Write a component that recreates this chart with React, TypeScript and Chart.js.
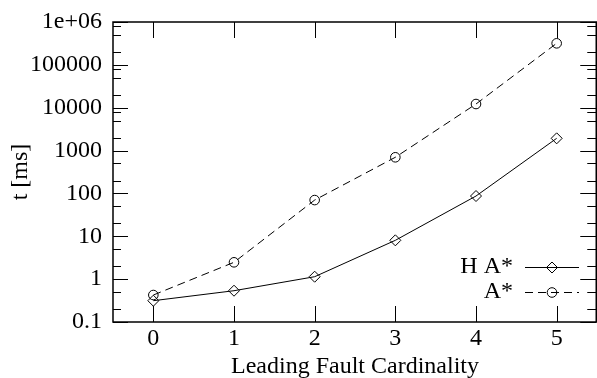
import React, { useEffect, useRef } from 'react';
import { Chart, registerables } from 'chart.js';

Chart.register(...registerables);

// ---- data ----
const categories = [0, 1, 2, 3, 4, 5];
const xTickLabels = ['0', '1', '2', '3', '4', '5'];
const haStarValues = [0.314, 0.537, 1.14, 8.05, 87, 1930];
const aStarValues = [0.426, 2.47, 70, 697, 12200, 318000];
const yMajorTicks = [0.1, 1, 10, 100, 1000, 10000, 100000, 1000000];
const yTickLabels = ['0.1', '1', '10', '100', '1000', '10000', '100000', '1e+06'];
const yMinorTicks = [0.2, 0.5, 2, 5, 20, 50, 200, 500, 2000, 5000, 8000, 20000, 50000, 80000, 200000, 500000, 800000];
const seriesNames = ['H A*', 'A*'];
const xTitle = 'Leading Fault Cardinality';
const yTitle = 't [ms]';

const FONT = "'Liberation Serif', 'Times New Roman', serif";
const DASH = [8, 5];

function drawMarker(ctx: CanvasRenderingContext2D, style: string, x: number, y: number, r: number) {
  ctx.beginPath();
  if (style === 'rectRot') {
    ctx.moveTo(x, y - r);
    ctx.lineTo(x + r, y);
    ctx.lineTo(x, y + r);
    ctx.lineTo(x - r, y);
    ctx.closePath();
  } else {
    ctx.arc(x, y, r, 0, Math.PI * 2);
  }
  ctx.stroke();
}

const gnuplotPlugin = {
  id: 'gnuplotFrame',
  beforeDatasetsDraw(chart: any) {
    const { ctx, chartArea: a, scales } = chart;
    const xs = scales.x;
    const ys = scales.y;
    const seg = (x1: number, y1: number, x2: number, y2: number) => {
      ctx.beginPath();
      ctx.moveTo(x1, y1);
      ctx.lineTo(x2, y2);
      ctx.stroke();
    };
    ctx.save();
    ctx.strokeStyle = '#000';
    ctx.lineWidth = 1;
    const right = a.right - 0.75;
    for (const v of categories) {
      const px = Math.round(xs.getPixelForValue(v)) + 0.5;
      seg(px, a.bottom, px, a.bottom - 16);
      seg(px, a.top, px, a.top + 16);
    }
    for (const v of yMajorTicks) {
      const py = Math.round(ys.getPixelForValue(v)) + 0.5;
      seg(a.left, py, a.left + 15, py);
      seg(right, py, right - 16, py);
    }
    for (const v of yMinorTicks) {
      const py = Math.round(ys.getPixelForValue(v)) + 0.5;
      seg(a.left, py, a.left + 8, py);
      seg(right, py, right - 9, py);
    }
    ctx.lineWidth = 1.5;
    ctx.strokeRect(a.left, a.top, right - a.left, a.bottom - a.top);
    ctx.restore();
  },
  afterDatasetsDraw(chart: any) {
    const { ctx } = chart;
    ctx.save();
    ctx.font = `24px ${FONT}`;
    ctx.fillStyle = '#000';
    ctx.textAlign = 'right';
    ctx.textBaseline = 'middle';
    const rows = [267, 292];
    chart.data.datasets.forEach((ds: any, i: number) => {
      const y = rows[i];
      ctx.fillText(ds.label, 513, y);
      ctx.strokeStyle = '#000';
      ctx.lineWidth = 1;
      ctx.setLineDash(ds.borderDash || []);
      ctx.beginPath();
      ctx.moveTo(525, y + 0.5);
      ctx.lineTo(579, y + 0.5);
      ctx.stroke();
      ctx.setLineDash([]);
      drawMarker(ctx, ds.pointStyle, 552, y + 0.5, ds.pointRadius);
    });
    ctx.restore();
  },
};

export default function App() {
  const ref = useRef<HTMLCanvasElement | null>(null);
  useEffect(() => {
    const canvas = ref.current;
    if (!canvas) return;
    Chart.defaults.font.family = FONT;
    Chart.defaults.color = '#000';
    const chart = new Chart(canvas, {
      type: 'line',
      data: {
        datasets: [
          {
            label: seriesNames[0],
            data: categories.map((c, i) => ({ x: c, y: haStarValues[i] })),
            borderColor: '#000',
            borderWidth: 1,
            pointStyle: 'rectRot',
            pointRadius: 5.5,
            pointBorderColor: '#000',
            pointBackgroundColor: 'rgba(0,0,0,0)',
            pointBorderWidth: 1,
            tension: 0,
            fill: false,
          },
          {
            label: seriesNames[1],
            data: categories.map((c, i) => ({ x: c, y: aStarValues[i] })),
            borderColor: '#000',
            borderWidth: 1,
            borderDash: DASH,
            pointStyle: 'circle',
            pointRadius: 4.8,
            pointBorderColor: '#000',
            pointBackgroundColor: 'rgba(0,0,0,0)',
            pointBorderWidth: 1,
            tension: 0,
            fill: false,
          },
        ],
      },
      options: {
        animation: false,
        responsive: false,
        devicePixelRatio: 1,
        layout: { autoPadding: false, padding: { top: 22, right: 0, left: 0, bottom: 0 } },
        plugins: { legend: { display: false }, tooltip: { enabled: false } },
        scales: {
          x: {
            type: 'linear',
            min: -0.5,
            max: 5.5,
            grid: { display: false, drawTicks: false },
            border: { display: false },
            afterBuildTicks: (scale: any) => {
              scale.ticks = categories.map((v) => ({ value: v }));
            },
            afterFit: (scale: any) => {
              scale.height = 56;
              scale.paddingLeft = 0;
              scale.paddingRight = 0;
            },
            ticks: {
              autoSkip: false,
              maxRotation: 0,
              padding: 2,
              font: { size: 24, family: FONT },
              color: '#000',
              callback: (value: any) => {
                const i = categories.indexOf(Number(value));
                return i >= 0 ? xTickLabels[i] : '';
              },
            },
            title: {
              display: true,
              text: xTitle,
              color: '#000',
              font: { size: 24, family: FONT, lineHeight: 0.9 },
              padding: { top: 0, bottom: 0 },
            },
          },
          y: {
            type: 'logarithmic',
            min: 0.1,
            max: 1000000,
            grid: { display: false, drawTicks: false },
            border: { display: false },
            afterBuildTicks: (scale: any) => {
              scale.ticks = yMajorTicks.map((v) => ({ value: v, major: true }));
            },
            afterFit: (scale: any) => {
              scale.width = 113;
              scale.paddingTop = 0;
              scale.paddingBottom = 0;
            },
            ticks: {
              autoSkip: false,
              padding: 11,
              font: { size: 24, family: FONT },
              color: '#000',
              callback: (value: any) => {
                const i = yMajorTicks.findIndex((t) => Math.abs(t - Number(value)) / t < 1e-6);
                return i >= 0 ? yTickLabels[i] : '';
              },
            },
            title: {
              display: true,
              text: yTitle,
              color: '#000',
              font: { size: 24, family: FONT, lineHeight: 1.2 },
              padding: { top: 6, bottom: 0 },
            },
          },
        },
      } as any,
      plugins: [gnuplotPlugin],
    });
    return () => chart.destroy();
  }, []);
  return (
    <div style={{ position: 'absolute', left: 0, top: 0, width: 597, height: 378, overflow: 'hidden', background: '#fff' }}>
      <canvas ref={ref} width={597} height={378} style={{ display: 'block', width: 597, height: 378 }} />
    </div>
  );
}
